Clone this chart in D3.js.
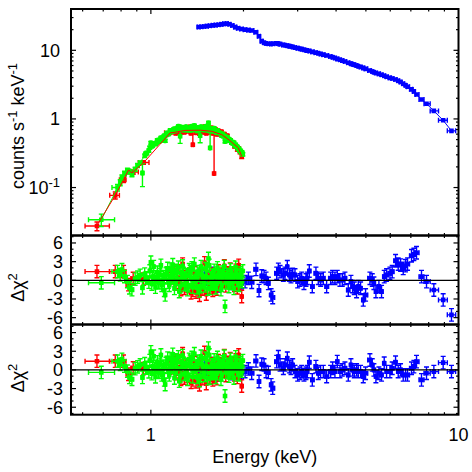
<!DOCTYPE html>
<html><head><meta charset="utf-8">
<script src="https://cdn.jsdelivr.net/npm/d3@7"></script>
<style>body{margin:0;background:#fff}svg{display:block}</style>
</head><body>
<svg id="c" width="472" height="472"></svg>
<script>
// ---------------- data ----------------
const xTicksMajor = [1, 10];
const xTickLabels = ["1", "10"];
const xTicksMinor = [0.6, 0.7, 0.8, 0.9, 2, 3, 4, 5, 6, 7, 8, 9];
const topTicksMajor = [0.1, 1, 10];
const topTickLabels = [["10", "-1"], ["1", ""], ["10", ""]];
const residTicks = [-6, -3, 0, 3, 6];
const residTickLabels = ["-6", "-3", "0", "3", "6"];

// dataset 1 (red)
const redE = [0.668,0.766,0.815,0.846,0.876,0.946,1.155,1.175,1.190,1.205,
  1.220,1.236,1.252,1.268,1.284,1.300,1.317,1.334,1.351,1.369,
  1.386,1.403,1.421,1.439,1.457,1.476,1.495,1.514,1.533,1.552,
  1.572,1.590,1.605,1.622,1.640,1.658,1.676,1.695,1.714,1.733,
  1.752,1.771,1.790,1.810,1.830,1.850,1.870,1.890,1.910,1.930,1.950,1.974];
const redFirstBin = [0.611, 0.733];
const redV = [0.0275,0.077,0.130,0.172,0.168,0.232,0.63,0.66,0.70,0.62,
  0.72,0.66,0.63,0.75,0.64,0.71,0.66,0.76,0.62,0.42,
  0.74,0.63,0.70,0.61,0.73,0.64,0.77,0.62,0.71,0.64,
  0.74,0.62,0.16,0.70,0.60,0.67,0.60,0.65,0.57,0.60,
  0.52,0.57,0.50,0.49,0.45,0.45,0.40,0.40,0.36,0.37,0.33,0.285];
const redDV = [0.004,0.009,0.012,0.013,0.012,0.014,0.03,0.03,0.03,0.028,
  0.03,0.028,0.028,0.03,0.028,0.03,0.028,0.03,0.027,0.25,
  0.03,0.027,0.03,0.027,0.03,0.027,0.03,0.027,0.03,0.027,
  0.03,0.027,0.5,0.03,0.027,0.029,0.027,0.028,0.026,0.027,
  0.025,0.026,0.024,0.024,0.023,0.023,0.022,0.022,0.021,0.021,0.02,0.02];
const redR = [1.4,1.4,1.4,-0.7,0.3,0.2,0.3,0.8,1.2,-0.6,
  1.5,-0.3,-1.5,2.6,-1.3,0.6,-1.0,1.0,-2.0,-1.6,
  1.2,-1.9,0.4,-2.4,0.8,-1.4,2.8,-2.2,0.6,-1.2,
  1.0,-1.6,-1.1,0.8,-1.4,1.5,-0.8,1.0,-0.2,2.3,
  -0.9,1.2,0.3,1.8,-0.4,1.0,-0.8,1.6,-1.2,2.4,-0.6,-2.6];
const redModelE = [0.668,0.766,0.815,0.846,0.868,0.946,1.155,1.20,1.29,1.45,1.577,1.70,1.80,1.85,1.925,1.974];
const redModelV = [0.028,0.077,0.13,0.18,0.163,0.229,0.625,0.64,0.68,0.685,0.66,0.59,0.49,0.44,0.378,0.285];

// dataset 2 (green) - main bins
const greenE = [0.690,0.779,0.795,0.805,0.821,0.839,0.852,0.868,0.889,0.905,
  0.923,0.939,0.955,0.970,0.985,1.000,1.014,1.028,1.042,1.056,
  1.070,1.085,1.100,1.113,1.127,1.140,1.155,1.170,1.185,1.200,
  1.215,1.229,1.245,1.260,1.276,1.292,1.308,1.325,1.342,1.359,
  1.376,1.394,1.412,1.430,1.446,1.466,1.485,1.504,1.522,1.539,
  1.558,1.577,1.596,1.616,1.636,1.656,1.679,1.700,1.722,1.742,
  1.760,1.782,1.805,1.828,1.851,1.874,1.898,1.922,1.946,1.970,1.990];
const greenFirstBin = [0.627, 0.762];
const greenV = [0.034,0.100,0.118,0.140,0.160,0.178,0.170,0.155,0.185,0.210,
  0.229,0.163,0.290,0.318,0.345,0.447,0.410,0.430,0.447,0.470,
  0.500,0.490,0.550,0.480,0.625,0.600,0.680,0.650,0.700,0.670,
  0.720,0.780,0.560,0.710,0.740,0.690,0.730,0.680,0.750,0.780,
  0.700,0.720,0.670,0.740,0.570,0.730,0.690,0.760,0.710,0.875,
  0.378,0.700,0.660,0.680,0.630,0.640,0.620,0.570,0.560,0.470,
  0.530,0.500,0.480,0.450,0.440,0.410,0.395,0.370,0.345,0.325,0.305];
const greenDV = [0.007,0.011,0.012,0.013,0.013,0.014,0.013,0.012,0.013,0.014,
  0.015,0.06,0.017,0.018,0.018,0.02,0.02,0.02,0.02,0.021,
  0.021,0.021,0.022,0.022,0.024,0.024,0.025,0.025,0.026,0.025,
  0.026,0.027,0.12,0.026,0.026,0.025,0.026,0.025,0.026,0.027,
  0.025,0.026,0.025,0.026,0.12,0.026,0.025,0.027,0.026,0.03,
  0.25,0.026,0.025,0.025,0.025,0.025,0.025,0.024,0.024,0.022,
  0.023,0.022,0.022,0.021,0.021,0.02,0.02,0.019,0.018,0.018,0.017];
const greenR = [-0.4,1.4,0.9,1.7,0.6,-0.2,-1.2,-1.5,0.2,0.5,
  0.8,-1.2,1.0,0.4,-0.3,2.9,0.6,0.2,0.5,-0.3,
  0.9,-0.8,0.6,-2.35,1.2,-0.3,1.8,0.4,1.0,-0.5,
  1.3,2.1,-1.0,0.3,1.1,-0.6,0.8,-0.9,1.4,2.0,
  -0.3,0.5,-1.2,1.0,-1.0,0.9,-0.4,1.9,0.5,3.5,
  -1.3,0.8,-0.5,0.6,-0.6,0.9,0.7,-0.8,1.0,-4.2,
  0.6,0.4,-0.5,1.2,-0.2,0.8,0.6,-0.7,0.9,0.2,1.5];
// dataset 2 (green) - further bins of the dense part
const greenE2 = [0.962,0.992,1.007,1.021,1.035,1.049,1.063,1.078,1.092,1.106,
  1.120,1.134,1.148,1.162,1.178,1.193,1.208,1.222,1.237,1.252,
  1.268,1.284,1.300,1.316,1.333,1.350,1.367,1.385,1.403,1.421,
  1.438,1.456,1.475,1.494,1.513,1.530,1.548,1.567,1.587,1.606,
  1.626,1.646,1.667,1.690,1.711,1.732,1.751,1.771,1.793,1.816,
  1.840,1.862,1.886,1.910,1.934,1.958,1.980];
const greenV2 = [0.31,0.38,0.40,0.44,0.43,0.49,0.47,0.53,0.51,0.57,
  0.58,0.62,0.63,0.67,0.66,0.72,0.69,0.74,0.70,0.76,
  0.69,0.73,0.77,0.70,0.72,0.68,0.76,0.80,0.71,0.75,
  0.69,0.77,0.72,0.70,0.78,0.68,0.74,0.71,0.69,0.73,
  0.66,0.68,0.63,0.61,0.60,0.57,0.55,0.54,0.51,0.49,
  0.46,0.45,0.42,0.39,0.365,0.34,0.32];
const greenDV2 = [0.017,0.019,0.02,0.02,0.02,0.021,0.021,0.022,0.022,0.023,
  0.023,0.024,0.024,0.025,0.025,0.026,0.025,0.026,0.026,0.026,
  0.025,0.026,0.026,0.025,0.026,0.025,0.026,0.027,0.025,0.026,
  0.025,0.026,0.026,0.025,0.027,0.025,0.026,0.025,0.025,0.026,
  0.025,0.025,0.024,0.024,0.024,0.023,0.023,0.023,0.022,0.022,
  0.021,0.021,0.02,0.02,0.019,0.018,0.018];
const greenR2 = [0.3,1.5,-0.6,2.2,-1.1,1.3,-0.4,2.4,0.1,-1.6,
  1.0,1.9,-0.8,0.6,2.5,-1.3,1.6,0.2,-1.8,1.2,
  2.3,-0.7,0.9,-1.5,1.7,0.4,-1.1,2.6,0.0,1.4,
  -1.7,2.2,0.6,-0.9,1.8,-1.4,2.4,0.3,-0.6,1.6,
  -1.2,2.0,0.5,-1.5,1.3,2.2,-0.4,0.9,-1.0,1.7,
  0.1,-1.3,2.1,0.7,-0.8,1.2,-0.2];
const greenModelE = [0.69,0.785,0.815,0.846,0.868,0.90,0.95,1.0,1.05,1.10,1.15,1.20,1.30,1.45,1.55,1.65,1.75,1.85,1.95,1.99];
const greenModelV = [0.034,0.105,0.15,0.175,0.16,0.2,0.28,0.40,0.48,0.56,0.64,0.68,0.70,0.70,0.69,0.64,0.56,0.46,0.36,0.31];

// dataset 3 (blue)
const blueE = [1.43,1.46,1.49,1.52,1.555,1.59,1.625,1.66,1.695,1.73,1.765,1.80,1.84,1.88,1.92,1.97,
  2.024,2.075,2.127,2.197,2.247,2.293,2.333,2.368,2.41,2.459,
  2.489,2.564,2.597,2.630,2.696,2.729,2.777,2.819,2.854,2.890,
  2.941,3.000,3.053,3.091,3.145,3.193,3.225,3.273,3.347,3.440,
  3.501,3.563,3.635,3.727,3.840,3.897,3.966,4.036,4.117,4.190,
  4.274,4.382,4.470,4.526,4.583,4.663,4.722,4.805,4.902,4.988,
  5.153,5.244,5.309,5.389,5.511,5.622,5.735,5.836,5.984,6.089,
  6.243,6.368,6.481,6.611,6.727,6.829,7.036,7.160,7.304,7.581,
  7.871,8.315,8.916,9.488];
const blueV = [21.9,22.0,22.2,22.5,22.8,23.1,23.3,23.6,23.9,24.3,24.5,24.0,23.0,21.8,21.0,20.4,
  20.0,19.7,19.4,18.3,16.0,13.6,12.9,12.6,12.45,12.4,
  12.5,12.6,12.5,12.3,12.0,11.85,11.7,11.5,11.35,11.15,
  10.95,10.75,10.55,10.4,10.2,10.0,9.9,9.75,9.5,9.25,
  9.05,8.85,8.65,8.4,8.11,7.93,7.71,7.5,7.27,7.08,
  6.86,6.59,6.39,6.27,6.15,5.99,5.87,5.71,5.54,5.37,
  5.09,4.9,4.78,4.68,4.54,4.40,4.25,4.12,3.97,3.88,
  3.75,3.6,3.45,3.25,3.1,2.95,2.7,2.52,2.27,1.92,
  1.66,1.31,0.955,0.67];
const blueR1 = [0.5,-0.3,0.8,0.2,-0.6,1.1,0.3,-0.9,0.4,0.7,-0.2,0.9,-0.5,0.3,1.2,-0.4,
  -0.21,0.32,-0.32,1.76,-1.65,0.69,0.59,0.32,-0.5,-2.35,
  -2.77,1.12,1.76,1.39,0.85,1.12,2.19,0.85,0.59,0.96,
  0.85,-0.21,0.05,0.32,-0.48,0.05,0.32,1.49,-1.01,1.12,
  0.32,0.05,0.32,-1.01,0.32,0.59,0.32,0.59,0.05,0.05,
  0.32,-1.55,-0.21,-1.01,-1.28,-1.81,-1.01,-1.28,-3.15,-2.35,
  0.32,0.05,-0.48,-1.81,-1.01,-1.81,0.59,0.85,1.12,1.39,
  3.15,2.61,2.45,1.92,2.35,2.61,3.95,4.16,4.43,0.59,
  -0.21,-1.55,-3.15,-5.55];
const blueR2 = [0.4,-0.4,0.7,0.1,-0.7,1.0,0.2,-0.8,0.3,0.6,-0.3,0.8,-0.6,0.2,1.0,-0.5,
  -0.27,0.16,-0.53,1.44,-1.87,0.91,0.8,-0.27,-0.4,-2.4,
  -2.93,1.33,2.13,0.8,0.27,0.8,1.87,0.53,0.27,0.8,
  -0.27,-0.8,-0.53,-0.27,-0.8,-0.53,-0.27,1.23,-1.6,0.53,
  -0.53,-0.27,-0.27,-1.07,-0.27,0.27,-0.27,1.33,-0.27,0,
  0.27,-0.8,0.8,0,-0.27,0,-0.27,-0.27,-1.07,-0.53,
  1.6,0.8,0,-1.07,-0.53,-0.8,1.07,-0.27,-0.27,0.27,
  1.23,-0.27,0,-0.8,-0.8,-0.8,0.27,0.53,1.33,-1.6,
  -0.53,-0.27,1.17,-0.27];

// ---------------- layout ----------------
const FONT = "'Liberation Sans', Arial, Helvetica, sans-serif";
const FS = 18, SUP = 13;
const L = 71, R = 458.5;
const P = [
  {y0: 9,     y1: 235.5},
  {y0: 235.5, y1: 324.5},
  {y0: 324.5, y1: 414.7}
];
const x = d3.scaleLog().domain([0.55, 10]).range([L, R]);
const yTop = d3.scaleLog().domain([0.02, 40]).range([P[0].y1, P[0].y0]);
const yMid = d3.scaleLinear().domain([-7.1, 7.2]).range([P[1].y1, P[1].y0]);
const yBot = d3.scaleLinear().domain([-7.2, 7.3]).range([P[2].y1, P[2].y0]);
const COL = {red: "#ff0000", green: "#00ff00", blue: "#0000ff"};

// merge the two green bin lists into one sorted set
const greenAll = greenE.map((e, i) => ({e, v: greenV[i], dv: greenDV[i], r: greenR[i]}))
  .concat(greenE2.map((e, i) => ({e, v: greenV2[i], dv: greenDV2[i], r: greenR2[i]})))
  .sort((a, b) => a.e - b.e);
const gE = greenAll.map(d => d.e), gV = greenAll.map(d => d.v),
      gDV = greenAll.map(d => d.dv), gR = greenAll.map(d => d.r);

const svg = d3.select("#c");
svg.append("rect").attr("width", 472).attr("height", 472).attr("fill", "#fff");
const defs = svg.append("defs");
P.forEach((p, i) => {
  defs.append("clipPath").attr("id", "clip" + i).append("rect")
    .attr("x", L).attr("y", p.y0).attr("width", R - L).attr("height", p.y1 - p.y0);
});

function binsOf(E, first, cap) {
  const n = E.length, LE = E.map(Math.log10);
  return E.map((e, i) => {
    if (i === 0 && first) return first;
    let dl = i > 0 ? (LE[i] - LE[i - 1]) / 2 : null;
    let dh = i < n - 1 ? (LE[i + 1] - LE[i]) / 2 : null;
    if (dl === null) dl = dh;
    if (dh === null) dh = dl;
    dl = Math.min(dl, cap); dh = Math.min(dh, cap);
    return [Math.pow(10, LE[i] - dl), Math.pow(10, LE[i] + dh)];
  });
}
const redBins = binsOf(redE, redFirstBin, 0.018);
const greenBins = binsOf(gE, greenFirstBin, 0.018);
const blueBins = binsOf(blueE, null, 0.02);

const CAP = 2.5, MS = 4.6, BW = 1.4;
function drawSet(g, E, bins, vals, errs, ys, color, logY) {
  let bars = "", marks = "";
  E.forEach((e, i) => {
    const cx = x(e), cy = ys(vals[i]);
    const xl = x(bins[i][0]), xh = x(bins[i][1]);
    bars += `M${xl},${cy}H${xh}`;
    bars += `M${xl},${cy - CAP}V${cy + CAP}M${xh},${cy - CAP}V${cy + CAP}`;
    if (errs) {
      const err = errs[i];
      const hiV = vals[i] + err, loV = vals[i] - err;
      const yh = ys(hiV);
      const lowOk = !(logY && loV <= vals[i] / 2);
      const yl = lowOk ? ys(loV) : cy;
      bars += `M${cx},${yl}V${yh}`;
      bars += `M${cx - CAP},${yh}H${cx + CAP}`;
      if (lowOk) bars += `M${cx - CAP},${yl}H${cx + CAP}`;
    }
    marks += `M${cx - MS / 2},${cy - MS / 2}h${MS}v${MS}h${-MS}Z`;
  });
  g.append("path").attr("d", bars).attr("fill", "none").attr("stroke", color).attr("stroke-width", BW);
  g.append("path").attr("d", marks).attr("fill", color);
}
function drawLine(g, E, V, ys, color) {
  const line = d3.line().x(d => x(d[0])).y(d => ys(d[1]));
  g.append("path").attr("d", line(E.map((e, i) => [e, V[i]])))
    .attr("fill", "none").attr("stroke", color).attr("stroke-width", 1);
}

// ---- top panel ----
const gTop = svg.append("g").attr("clip-path", "url(#clip0)");
drawSet(gTop, blueE, blueBins, blueV, null, yTop, COL.blue, true);
drawSet(gTop, redE, redBins, redV, redDV, yTop, COL.red, true);
drawSet(gTop, gE, greenBins, gV, gDV, yTop, COL.green, true);
drawLine(gTop, blueE, blueV, yTop, COL.blue);
drawLine(gTop, greenModelE, greenModelV, yTop, COL.green);
drawLine(gTop, redModelE, redModelV, yTop, COL.red);

// ---- residual panels ----
const ones = n => new Array(n).fill(1);
[[yMid, blueR1, 1], [yBot, blueR2, 2]].forEach(([ys, bR, k]) => {
  const g = svg.append("g").attr("clip-path", `url(#clip${k})`);
  drawSet(g, blueE, blueBins, bR, ones(blueE.length), ys, COL.blue, false);
  drawSet(g, redE, redBins, redR, ones(redE.length), ys, COL.red, false);
  drawSet(g, gE, greenBins, gR, ones(gE.length), ys, COL.green, false);
  g.append("line").attr("x1", L).attr("x2", R).attr("y1", ys(0)).attr("y2", ys(0))
    .attr("stroke", "#000").attr("stroke-width", 1.2);
});

// ---- ticks & frames ----
const axes = svg.append("g").attr("stroke", "#000").attr("stroke-width", 1.2);
const MAJ = 5, MIN = 2.5;
function xTicks(p) {
  const all = xTicksMajor.map(v => [v, MAJ]).concat(xTicksMinor.map(v => [v, MIN]));
  all.forEach(([v, len]) => {
    const px = x(v);
    if (px <= L + 1 || px >= R - 1) return;
    axes.append("line").attr("x1", px).attr("x2", px).attr("y1", p.y1).attr("y2", p.y1 - len);
    axes.append("line").attr("x1", px).attr("x2", px).attr("y1", p.y0).attr("y2", p.y0 + len);
  });
}
function yTicks(ys, vals, len, p) {
  vals.forEach(v => {
    const py = ys(v);
    if (py <= p.y0 + 1 || py >= p.y1 - 1) return;
    axes.append("line").attr("x1", L).attr("x2", L + len).attr("y1", py).attr("y2", py);
    axes.append("line").attr("x1", R).attr("x2", R - len).attr("y1", py).attr("y2", py);
  });
}
P.forEach(p => xTicks(p));
const topMinor = [];
[0.01, 0.1, 1, 10].forEach(d => { for (let m = 2; m <= 9; m++) { const v = d * m; if (v >= 0.02 && v <= 40) topMinor.push(v); } });
yTicks(yTop, topTicksMajor, MAJ, P[0]);
yTicks(yTop, topMinor, MIN, P[0]);
const resMinor = d3.range(-7, 8).filter(v => v % 3 !== 0);
yTicks(yMid, residTicks, MAJ, P[1]); yTicks(yMid, resMinor, MIN, P[1]);
yTicks(yBot, residTicks, MAJ, P[2]); yTicks(yBot, resMinor, MIN, P[2]);
P.forEach(p => {
  svg.append("rect").attr("x", L).attr("y", p.y0).attr("width", R - L).attr("height", p.y1 - p.y0)
    .attr("fill", "none").attr("stroke", "#000").attr("stroke-width", 2);
});

// ---- labels ----
const txt = svg.append("g").attr("font-family", FONT).attr("font-size", FS).attr("fill", "#000");
topTicksMajor.forEach((v, i) => {
  const t = txt.append("text").attr("x", 60).attr("y", yTop(v) + 6.3).attr("text-anchor", "end");
  t.append("tspan").text(topTickLabels[i][0]);
  if (topTickLabels[i][1]) t.append("tspan").attr("font-size", SUP).attr("dy", -7).text(topTickLabels[i][1]);
});
[yMid, yBot].forEach(ys => {
  residTicks.forEach((v, i) => {
    txt.append("text").attr("x", 63).attr("y", ys(v) + 6.3).attr("text-anchor", "end").text(residTickLabels[i]);
  });
});
xTicksMajor.forEach((v, i) => {
  txt.append("text").attr("x", x(v)).attr("y", 441).attr("text-anchor", "middle").text(xTickLabels[i]);
});
txt.append("text").attr("x", (L + R) / 2).attr("y", 463).attr("text-anchor", "middle").text("Energy (keV)");

const yl = txt.append("text").attr("transform", "translate(23.5,126) rotate(-90)").attr("text-anchor", "middle");
yl.append("tspan").text("counts s");
yl.append("tspan").attr("font-size", SUP).attr("dy", -7).text("-1");
yl.append("tspan").attr("dy", 7).text(" keV");
yl.append("tspan").attr("font-size", SUP).attr("dy", -7).text("-1");

[287.5, 378].forEach(cy => {
  const t = txt.append("text").attr("transform", `translate(24,${cy}) rotate(-90)`).attr("text-anchor", "middle");
  t.append("tspan").text("\u0394\u03c7");
  t.append("tspan").attr("font-size", SUP).attr("dy", -7).text("2");
});
</script>
</body></html>
